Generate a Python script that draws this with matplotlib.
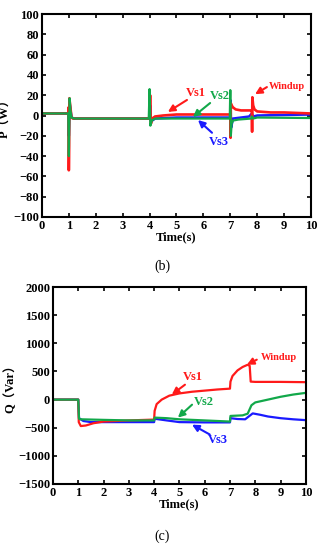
import matplotlib.pyplot as plt
import numpy as np

# ---- data ----
# (b) active power P
t_p_red = [0, 0.98, 0.99, 1.0, 1.01, 1.02, 1.05, 1.1, 1.15, 1.3, 3.95, 3.98, 4.0, 4.02, 4.05,
           4.1, 4.2, 4.5, 5, 6, 6.98, 7.0, 7.01, 7.02, 7.05, 7.1, 7.2, 7.4, 7.6, 7.78, 7.8,
           7.81, 7.82, 7.85, 7.9, 8.0, 8.5, 9, 10]
p_red = [2, 2, 8, -54, -30, 17, 10, -2, -3, -3, -3, -3, 0, 20, -8,
         -3, -1, 0, 1, 1, 1, 1, -22, 12, 10, 8, 6, 5, 5, 5, 4,
         -16, 18, 10, 6, 4, 3, 3, 2]
t_p_green = [0, 0.98, 1.0, 1.01, 1.03, 1.06, 1.1, 1.2, 3.97, 4.0, 4.03, 4.08, 4.2, 6.98,
             7.0, 7.02, 7.05, 7.1, 7.3, 7.78, 7.8, 7.85, 8, 10]
p_green = [2, 2, -40, -20, 17, 5, -2, -3, -3, 26, -10, -5, -3, -3,
           25, -20, -8, -5, -4, -3, -1, -3, -2, -2.5]
t_p_blue = [0, 0.99, 1.0, 1.03, 1.1, 1.2, 4.0, 4.02, 4.05, 4.2, 5, 7, 7.01, 7.03, 7.1,
            7.7, 7.8, 7.85, 8, 10]
p_blue = [2, 2, -20, 12, -2, -3, -3, 10, -6, -3, -2, -2, 15, -12, -3,
          -1, 2, -1, 0, 1]

# (c) reactive power Q
t_q_red = [0, 1.0, 1.02, 1.1, 1.3, 1.6, 2, 3, 4.0, 4.02, 4.1, 4.3, 4.6, 5, 5.5, 6, 6.5,
           7.0, 7.02, 7.1, 7.3, 7.5, 7.7, 7.78, 7.82, 8, 9, 10]
q_red = [0, 0, -400, -470, -460, -420, -390, -370, -355, -200, -80, 0, 70, 110, 140, 160, 180,
         195, 320, 420, 520, 580, 620, 600, 320, 315, 315, 310]
t_q_green = [0, 1.0, 1.03, 1.1, 2, 3, 4.0, 4.02, 4.5, 5, 6, 7.0, 7.02, 7.5, 7.7, 7.85, 8,
             8.3, 8.6, 9, 9.5, 10]
q_green = [0, 0, -340, -350, -360, -370, -370, -320, -330, -350, -370, -390, -290, -280,
           -250, -100, -50, -20, 10, 50, 90, 120]
t_q_blue = [0, 1.0, 1.03, 1.2, 1.5, 2, 4.0, 4.02, 4.5, 5, 6, 7.0, 7.02, 7.3, 7.6, 7.9,
            8.2, 8.5, 9, 9.5, 10]
q_blue = [0, 0, -330, -380, -400, -400, -400, -340, -370, -400, -405, -405, -330, -345,
          -350, -245, -270, -300, -330, -350, -365]

RED = '#ff1a1a'
GREEN = '#12a84a'
BLUE = '#1a1aff'
serif = ['Liberation Serif', 'Noto Sans CJK SC']

fig = plt.figure(figsize=(3.25, 5.5), dpi=100)
ax1 = fig.add_axes([0.129, 0.6055, 0.828, 0.369])
ax2 = fig.add_axes([0.163, 0.12, 0.778, 0.358])


def style(ax, ylim, yticks, ylabel):
    ax.set_xlim(0, 10)
    ax.set_ylim(*ylim)
    ax.set_xticks(np.arange(0, 11, 1))
    ax.set_yticks(yticks)
    ax.tick_params(direction='in', top=True, right=True, length=3, width=1.2, pad=2)
    for lab in ax.get_xticklabels() + ax.get_yticklabels():
        lab.set_fontfamily(serif)
        lab.set_fontweight('bold')
        lab.set_fontsize(9)
    for s in ax.spines.values():
        s.set_linewidth(1.5)
    ax.set_xlabel('Time(s)', family=serif, fontweight='bold', fontsize=9, labelpad=0)
    ax.set_ylabel(ylabel, family=serif, fontweight='bold', fontsize=9, labelpad=1)


def label(ax, text, pos, tail, head, color, size=9):
    # text and arrow placed separately so the arrow shaft stays visible
    ax.text(pos[0], pos[1], text, color=color, family=serif, fontweight='bold',
            fontsize=size, ha='center', va='center')
    ax.annotate('', xy=head, xytext=tail,
                arrowprops=dict(arrowstyle='-|>', color=color, lw=1.5,
                                mutation_scale=10, shrinkA=0, shrinkB=0))


# (b)
ax1.plot(t_p_blue, p_blue, color=BLUE, lw=1.8)
ax1.plot(t_p_red, p_red, color=RED, lw=1.9)
ax1.plot(t_p_green, p_green, color=GREEN, lw=1.6)
style(ax1, (-100, 100), np.arange(-100, 101, 20), 'P（W）')

label(ax1, 'Vs1', (5.72, 22), (5.39, 15.3), (4.68, 3.5), RED)
label(ax1, 'Vs2', (6.6, 19), (6.25, 12.3), (5.61, -1.5), GREEN)
label(ax1, 'Vs3', (6.58, -26), (6.32, -17), (5.8, -4.5), BLUE)
label(ax1, 'Windup', (9.1, 29), (8.36, 28), (7.92, 21), RED, size=7.5)

# (c)
ax2.plot(t_q_blue, q_blue, color=BLUE, lw=1.6)
ax2.plot(t_q_red, q_red, color=RED, lw=1.6)
ax2.plot(t_q_green, q_green, color=GREEN, lw=1.6)
style(ax2, (-1500, 2000), np.arange(-1500, 2001, 500), 'Q（Var）')

label(ax2, 'Vs1', (5.55, 400), (5.22, 265), (4.7, 90), RED)
label(ax2, 'Vs2', (5.95, -45), (5.5, -90), (4.94, -320), GREEN)
label(ax2, 'Vs3', (6.52, -720), (6.2, -620), (5.5, -445), BLUE)
label(ax2, 'Windup', (8.95, 750), (8.06, 710), (7.67, 620), RED, size=7.5)

fig.text(0.5, 1 - 266 / 550, '(b)', family=serif, fontsize=10, ha='center', va='center')
fig.text(0.5, 1 - 536 / 550, '(c)', family=serif, fontsize=10, ha='center', va='center')

fig.savefig('out.png', dpi=100, facecolor='white')
